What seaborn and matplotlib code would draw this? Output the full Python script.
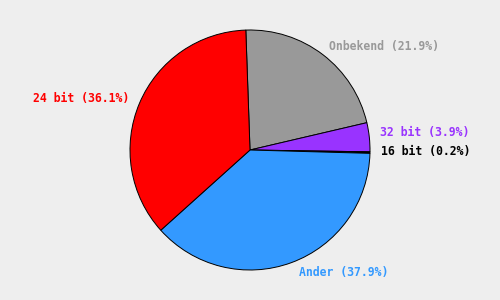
import matplotlib
matplotlib.use("Agg")
import matplotlib.pyplot as plt
import seaborn as sns

categories = ["Onbekend", "32 bit", "16 bit", "Ander", "24 bit"]
values = [21.9, 3.9, 0.2, 37.9, 36.1]
colors = ["#999999", "#9933ff", "#000000", "#3399ff", "#ff0000"]

sns.set_theme(style="white", rc={"figure.facecolor": "#eeeeee", "axes.facecolor": "#eeeeee"})
plt.rcParams["font.family"] = ["DejaVu Sans Mono", "DejaVu Sans"]

fig = plt.figure(figsize=(5, 3), dpi=100)
ax = fig.add_axes([0, 0, 1, 1])
labels = [f"{c} ({v:.1f}%)" for c, v in zip(categories, values)]
wedges, texts = ax.pie(values, labels=labels, colors=colors, startangle=92,
                       counterclock=False, labeldistance=1.09,
                       wedgeprops=dict(edgecolor="black", linewidth=0.7),
                       textprops=dict(fontsize=8.3, fontweight="bold"))
for t, c in zip(texts, colors):
    t.set_color(c)
# small label nudges to match the reference layout
x, y = texts[1].get_position()
texts[1].set_position((x, y + 0.03))
x, y = texts[2].get_position()
texts[2].set_position((x, y + 0.015))
x, y = texts[3].get_position()
texts[3].set_position((x + 0.03, y))
ax.set_aspect("equal")
ax.set_xlim(-500 / 240, 500 / 240)
ax.set_ylim(-1.25, 1.25)
ax.axis("off")
fig.savefig("out.png", dpi=100, facecolor="#eeeeee")
